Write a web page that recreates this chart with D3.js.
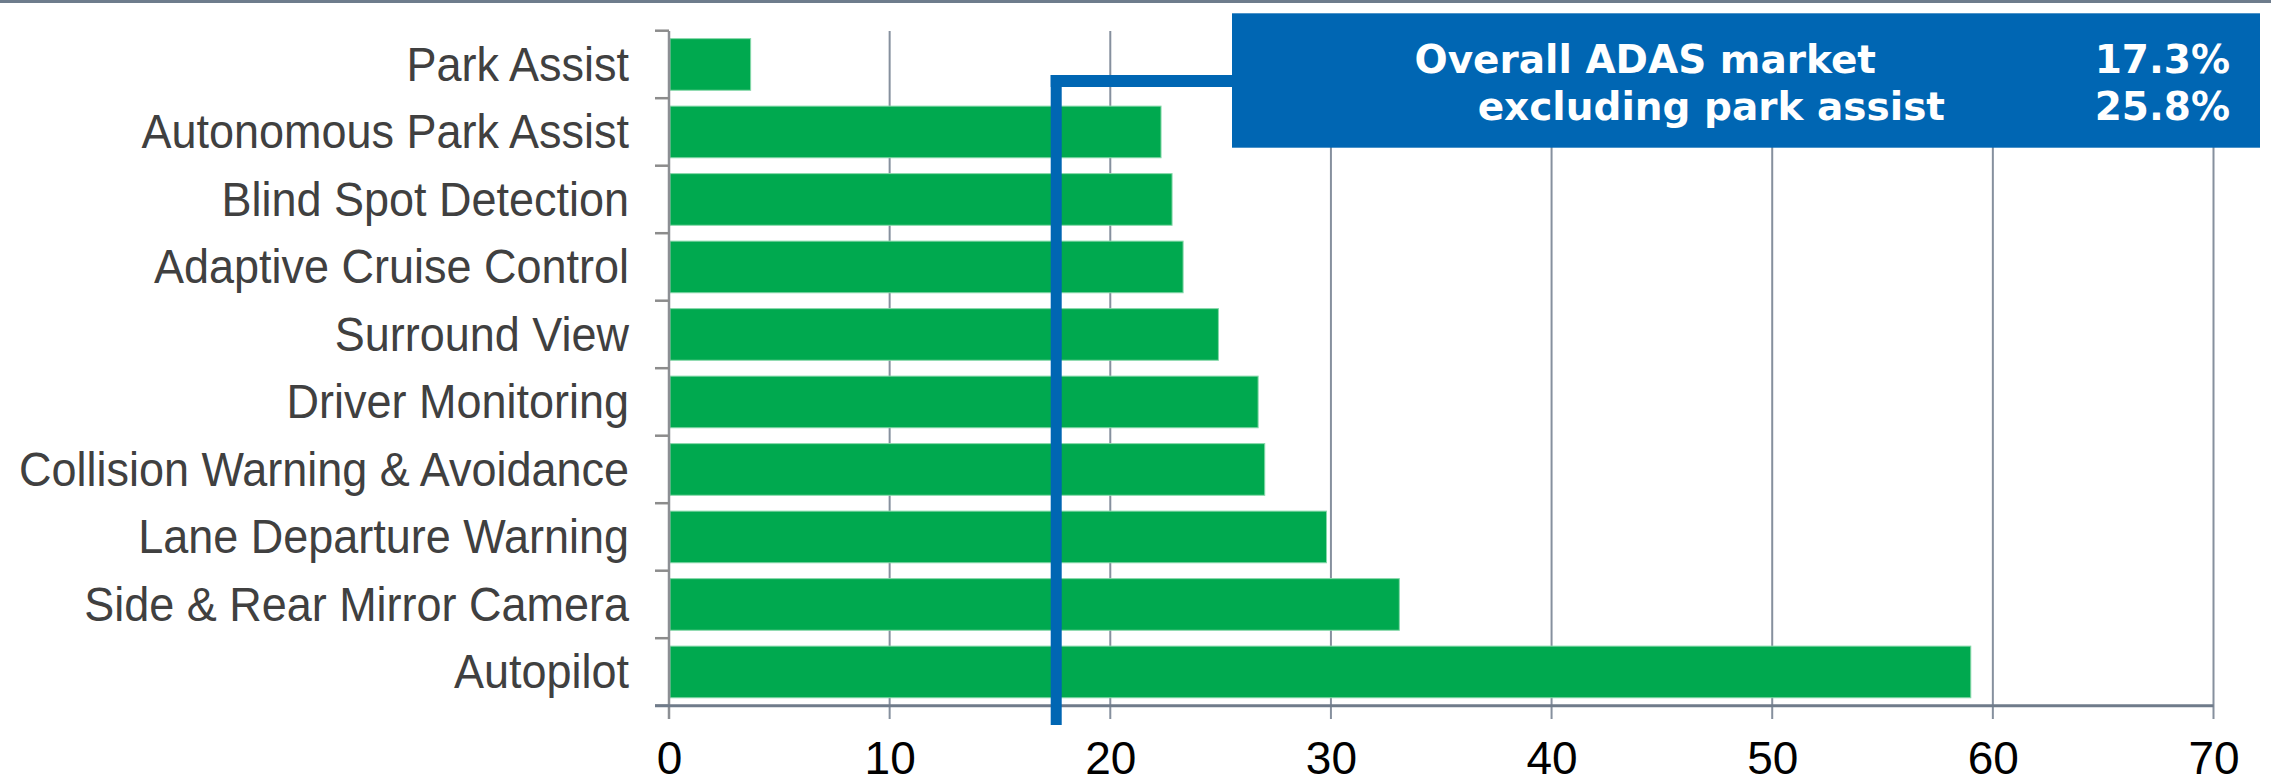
<!DOCTYPE html>
<html>
<head>
<meta charset="utf-8">
<script src="https://cdn.jsdelivr.net/npm/d3@7"></script>
<style>
  body { margin: 0; background: #fff; }
  svg { display: block; }
</style>
</head>
<body>
<script>
// data
const categories = ['Park Assist', 'Autonomous Park Assist', 'Blind Spot Detection', 'Adaptive Cruise Control',
  'Surround View', 'Driver Monitoring', 'Collision Warning & Avoidance', 'Lane Departure Warning',
  'Side & Rear Mirror Camera', 'Autopilot'];
const shares = [3.7, 22.3, 22.8, 23.3, 24.9, 26.7, 27.0, 29.8, 33.1, 59.0];
const xTicks = [0, 10, 20, 30, 40, 50, 60, 70];
const overallMarket = 17.3;
const boxLabels = ['Overall ADAS market', 'excluding park assist'];
const boxValues = ['17.3%', '25.8%'];

let width = 2271;
let height = 778;
let svg = d3.select('body').append('svg').attr('width', width).attr('height', height);

let x = d3.scaleLinear().domain([0, 70]).range([669, 2213.5]);
let y = d3.scaleBand().domain(categories).range([30.7, 705.7]).paddingInner(0.235).paddingOuter(0.1175);

// top rule
svg.append('rect').attr('x', 0).attr('y', 0).attr('width', width).attr('height', 3).attr('fill', '#6e7c8c');

// vertical gridlines (run a bit below the axis like ticks)
svg.append('g').selectAll('line')
  .data(xTicks.slice(1))
  .enter().append('line')
    .attr('x1', d => x(d)).attr('x2', d => x(d))
    .attr('y1', 31).attr('y2', 719)
    .attr('stroke', '#86909e').attr('stroke-width', 2);

// bars
svg.append('g').selectAll('rect')
  .data(shares)
  .enter().append('rect')
    .attr('x', x(0) + 1)
    .attr('y', (d, i) => y(categories[i]))
    .attr('width', d => x(d) - x(0) - 1)
    .attr('height', y.bandwidth())
    .attr('fill', '#00a94f')
    .attr('stroke', '#86d8aa').attr('stroke-width', 1);

// left axis line and band ticks
svg.append('line')
  .attr('x1', x(0)).attr('x2', x(0)).attr('y1', 31).attr('y2', 719)
  .attr('stroke', '#8c8f94').attr('stroke-width', 2.5);
svg.append('g').selectAll('line')
  .data(d3.range(categories.length + 1))
  .enter().append('line')
    .attr('x1', x(0) - 14).attr('x2', x(0))
    .attr('y1', i => 30.7 + i * y.step()).attr('y2', i => 30.7 + i * y.step())
    .attr('stroke', '#8c8c8c').attr('stroke-width', 2.5);

// bottom axis line
svg.append('line')
  .attr('x1', x(0) - 14).attr('x2', x(70)).attr('y1', 705.7).attr('y2', 705.7)
  .attr('stroke', '#6f7b8a').attr('stroke-width', 3);

// category labels (slightly condensed like the original)
let squeeze = 0.947;
let yAxis = d3.axisLeft(y).tickSize(0).tickPadding(40);
let gy = svg.append('g').attr('transform', `translate(${x(0)},0)`).call(yAxis);
gy.select('.domain').remove();
gy.selectAll('text')
  .attr('font-family', '"Liberation Sans", Arial, sans-serif')
  .attr('font-size', 47.5)
  .attr('fill', '#404040')
  .attr('x', -40 / squeeze)
  .attr('transform', `scale(${squeeze},1)`)
  .attr('dy', '0.34em');

// x tick labels
let xAxis = d3.axisBottom(x).tickValues(xTicks).tickSize(0).tickPadding(0).tickFormat(d3.format('d'));
let gx = svg.append('g').attr('transform', 'translate(0,774)').call(xAxis);
gx.select('.domain').remove();
gx.selectAll('text')
  .attr('font-family', '"Liberation Sans", Arial, sans-serif')
  .attr('font-size', 46)
  .attr('fill', '#000')
  .attr('dy', 0);

// overall market marker and connector to the box
let blue = '#0066b3';
let boxLeft = 1232, boxRight = 2260, boxTop = 13.3, boxBottom = 147.7;
svg.append('rect')
  .attr('x', x(overallMarket)).attr('y', 75)
  .attr('width', 11).attr('height', 725 - 75)
  .attr('fill', blue);
svg.append('rect')
  .attr('x', x(overallMarket)).attr('y', 75)
  .attr('width', boxLeft - x(overallMarket)).attr('height', 12)
  .attr('fill', blue);

// callout box
svg.append('rect')
  .attr('x', boxLeft).attr('y', boxTop)
  .attr('width', boxRight - boxLeft).attr('height', boxBottom - boxTop)
  .attr('fill', blue);

let boxText = svg.append('g')
  .attr('font-family', '"DejaVu Sans", Verdana, sans-serif')
  .attr('font-weight', 'bold')
  .attr('font-size', 39)
  .attr('fill', '#fff')
  .attr('text-anchor', 'end');
let labelRight = [1876, 1945];
let baselines = [73.3, 120];
boxText.selectAll('text.lbl')
  .data(boxLabels)
  .enter().append('text')
    .attr('class', 'lbl')
    .attr('x', (d, i) => labelRight[i])
    .attr('y', (d, i) => baselines[i])
    .text(d => d);
boxText.selectAll('text.val')
  .data(boxValues)
  .enter().append('text')
    .attr('class', 'val')
    .attr('x', 2230)
    .attr('y', (d, i) => baselines[i])
    .text(d => d);
</script>
</body>
</html>
